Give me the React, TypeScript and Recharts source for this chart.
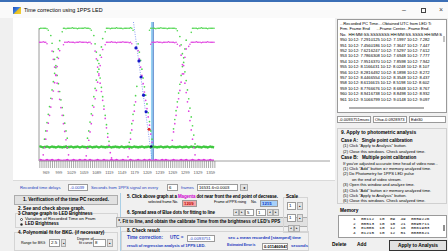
import React from "react";
import { ComposedChart, Scatter, Line, XAxis, YAxis, ReferenceLine } from "recharts";

const FONT = '"Liberation Sans", Arial, sans-serif';
const gap = (n: number) => Array.from({ length: n }, () => null as number | null);

// every 3rd frame is plotted
const FRAMES = [
  953, 956, 959, 962, 965, 968, 971, 974, 977, 980, 983, 986, 989, 992, 995, 998, 1001, 1004, 1007, 1010,
  1013, 1016, 1019, 1022, 1025, 1028, 1031, 1034, 1037, 1040, 1043, 1046, 1049, 1052, 1055, 1058, 1061, 1064, 1067, 1070,
  1073, 1076, 1079, 1082, 1085, 1088, 1091, 1094, 1097, 1100, 1103, 1106, 1109, 1112, 1115, 1118, 1121, 1124, 1127, 1130,
  1133, 1136, 1139, 1142, 1145, 1148, 1151, 1154, 1157, 1160, 1163, 1166, 1169, 1172, 1175, 1178, 1181, 1184, 1187, 1190,
  1193, 1196, 1199, 1202, 1205, 1208, 1211, 1214, 1217, 1220, 1223, 1226, 1229, 1232, 1235, 1238, 1241, 1244, 1247, 1250,
  1253, 1256, 1259, 1262, 1265, 1268, 1271, 1274, 1277, 1280, 1283, 1286, 1289, 1292, 1295, 1298, 1301, 1304, 1307, 1310,
  1313, 1316, 1319, 1322, 1325, 1328, 1331, 1334, 1337, 1340, 1343, 1346, 1349, 1352, 1355, 1358, 1361, 1364, 1367,
];

// LED brightness, odd field (green) and even field (magenta)
const GREEN_TOP = [
  255, 256, 256, 256, 256, 256, 255, 252, ...gap(10),
  249, 256, 256, 255, 256, 256, 256, 256, 257, 256, 256, 256, 255, 256, 256, 256, 256, 256, 257, 256, 256, 256, 255, 252, ...gap(10),
  249, 256, 256, 256, 255, 256, 256, 256, 256, 257, 256, 256, 256, 256, 255, 256, 256, 256, 256, 256, 257, 256, 252, ...gap(12),
  252, 256, 256, 256, 256, 255, 256, 256, 256, 257, 256, 256, 256, 256, 255, 256, 256, 256, 256, 256, 256, 255, 251, ...gap(10),
  248, 256, 256, 256, 256, 255, 256, 256, 257, 256, 256, 256, 256, 255, 256, 256, 256, 256, 256,
];
const MAGENTA_TOP = [
  229, 229, 229, 230, 229, 229, 226, ...gap(12),
  224, 229, 229, 229, 230, 229, 229, 229, 229, 228, 229, 229, 229, 230, 229, 229, 229, 229, 229, 228, 229, 229, 226, ...gap(10),
  224, 229, 229, 229, 229, 230, 229, 229, 229, 228, 229, 229, 229, 229, 230, 229, 229, 229, 229, 228, 229, 226, ...gap(14),
  225, 229, 229, 229, 229, 230, 229, 229, 229, 228, 229, 229, 229, 229, 230, 229, 229, 229, 229, 228, 229, 225, ...gap(8),
  221, 225, 229, 229, 229, 229, 230, 229, 229, 229, 228, 229, 229, 229, 229, 230, 229, 229, 229, 229, 229,
];
const GREEN_DOWN = [
  ...gap(9), 242, 227, 211, 196, 180, 165, 149, 134, 118, 103, 88, 73, 58, 44,
  ...gap(20), 242, 226, 210, 194, 177, 160, 142, 124, 106, 88, 70, 53, 38,
  ...gap(22), 226, 210, 194, 177, 160, 143, 127, 110, 93, 76, 58, 42,
  ...gap(21), 240, 224, 207, 190, 172, 155, 137, 120, 102, 85, 68, 50, 33, ...gap(15),
];
const MAGENTA_DOWN = [
  ...gap(10), 212, 196, 181, 165, 150, 134, 119, 103, 88, 72, 57, 41, 26, 12,
  ...gap(20), 212, 197, 181, 165, 150, 134, 117, 100, 82, 64, 46, 30, 16, 6,
  ...gap(20), 213, 197, 181, 165, 149, 133, 117, 101, 85, 69, 52, 36,
  ...gap(21), 222, 204, 186, 168, 150, 132, 114, 96, 78, 60, 42, 26, 12, ...gap(15),
];
const GREEN_UP = [
  ...gap(4), 42, 58, 74, 90, 105, 121, 137, 153, 169, 184, 200, 216, 232,
  ...gap(21), 44, 58, 75, 91, 107, 124, 140, 156, 172, 188, 204, 220, 236,
  ...gap(20), 36, 54, 72, 90, 108, 126, 144,
  ...gap(28), 62, 80, 97, 114, 131, 148, 165, 182, 199, 216, 233, ...gap(22),
];
const MAGENTA_UP = [
  ...gap(3), 12, 26, 42, 58, 73, 88, 104, 120, 135, 151, 166, 182, 198, 213,
  ...gap(20), 10, 25, 40, 56, 72, 88, 104, 120, 136, 152, 168, 184, 200, 215,
  ...gap(19), 8, 24, 42, 60, 78, 96, 114,
  ...gap(28), 40, 56, 72, 88, 104, 120, 136, 152, 168, 184, 200, 216, ...gap(22),
];
const GREEN_BASE = [
  27, 28, 27, 26, 27, 27, 28, 27, 26, 27, 28, 27, 27, 26, 27, 28, 27, 27, 26, 27,
  27, 28, 26, 27, 27, 28, 27, 26, 27, 27, 28, 27, 26, 27, 28, 27, 27, 26, 27, 27,
  28, 27, 26, 27, 27, 28, 27, 26, 27, 28, 27, 27, 26, 27, 27, 28, 27, 26, 27, 27,
  28, 27, 27, 26, 27, 28, 27, 26, 27, 27, 28, 27, 27, 26, 27, 28, 27, 27, 26, 27,
  27, 28, 27, 26, 27, 27, 28, 27, 26, 27, 28, 27, 27, 26, 27, 27, 28, 27, 26, 27,
  27, 28, 27, 26, 27, 28, 27, 27, 26, 27, 27, 28, 27, 26, 27, 27, 28, 27, 26, 27,
  28, 27, 27, 26, 27, 28, 27, 27, 26, 27, 28, 27, 27, 26, 27, 28, 27, 27, 26,
];
const MAGENTA_BASE = [
  1, 2, 1, 1, 0, 1, 2, 1, 1, 1, 2, 1, 0, 1, 1, 2, 1, 1, 0, 1,
  1, 1, 2, 1, 0, 1, 1, 2, 1, 1, 0, 1, 2, 1, 1, 1, 2, 1, 0, 1,
  2, 1, 1, 0, 1, 1, 2, 1, 1, 0, 1, 2, 1, 1, 1, 0, 1, 2, 1, 1,
  1, 2, 1, 0, 1, 1, 2, 1, 1, 1, 0, 1, 2, 1, 1, 0, 1, 1, 2, 1,
  1, 0, 1, 2, 1, 1, 1, 2, 1, 0, 1, 1, 2, 1, 1, 0, 1, 2, 1, 1,
  2, 1, 1, 0, 1, 1, 2, 1, 1, 1, 0, 1, 2, 1, 1, 1, 2, 1, 0, 1,
  1, 2, 1, 1, 0, 1, 2, 1, 1, 1, 2, 1, 0, 1, 1, 2, 1, 1, 1,
];

// dots chosen for the line fit, the selected frame and the 1PPS rising point
const BLUE_FRAMES = [1182, 1189, 1194, 1200, 1206];
const BLUE_VALUES = [218, 193, 162, 127, 95];
const SELECTED_FRAME = [1213];
const SELECTED_VALUE = [61];
const RISE_FRAME = [1218];
const RISE_VALUE = [28];
const FIT_LINE = [
  { x: 1176, y: 268 },
  { x: 1220, y: 2 },
];
const CURSOR_FRAME = 1221;

const X_LABELS = [969, 999, 1029, 1059, 1089, 1119, 1149, 1179, 1209, 1239, 1269, 1299, 1329, 1359];
const X_TICKS = Array.from({ length: 84 }, (_, i) => 954 + i * 5);
const Y_TICKS = [0, 100, 200];

const LIST_HEAD = [
  "...Recorded PC Time....Obtained UTC from LED Ti",
  "Frm. Frame End      ...Frame Center...Frame End.",
  "No.  HH:MM:SS.SSSSSSS HH:MM:SS.SSSS HH:MM:S",
];
const LIST_ROWS = [
  "950 10:12: 7.2910125 10:12: 7.1997 10:12: 7.282",
  "951 10:12: 7.4560186 10:12: 7.3647 10:12: 7.447",
  "952 10:12: 7.6216247 10:12: 7.5297 10:12: 7.612",
  "953 10:12: 7.7866308 10:12: 7.6948 10:12: 7.777",
  "954 10:12: 7.9516370 10:12: 7.8598 10:12: 7.942",
  "955 10:12: 8.1166431 10:12: 8.0248 10:12: 8.107",
  "956 10:12: 8.2816492 10:12: 8.1898 10:12: 8.272",
  "957 10:12: 8.4466554 10:12: 8.3548 10:12: 8.437",
  "958 10:12: 8.6116615 10:12: 8.5198 10:12: 8.602",
  "959 10:12: 8.7766676 10:12: 8.6848 10:12: 8.767",
  "960 10:12: 8.9416738 10:12: 8.8498 10:12: 8.932",
  "961 10:12: 9.1066799 10:12: 9.0148 10:12: 9.097",
];
const MEMORY_ROWS = [
  "1  00112  10  09  49  0059226",
  "2  00513  10  10  21  0095711",
  "3  01006  10  12  16  0061903",
  "4  01215  10  12  51  0088621",
];
const CASE_LINES = [
  { t: "Case A:   Single point calibration", b: true, x: 341 },
  { t: '(1) Click "Apply to Analysis" button.', x: 343 },
  { t: "(2) Close this windows. Check analyzed time.", x: 343 },
  { t: "Case B:   Multiple point calibration", b: true, x: 341 },
  { t: "If you've adjusted accurate time head of video now...", x: 343 },
  { t: '(1) Click "Add" button => memory analyzed time.', x: 343 },
  { t: "(2) Do Photometry for 1PPS LED pulse", x: 343 },
  { t: "on the end of video stream.", x: 352 },
  { t: "(3) Open this window and analyze time.", x: 343 },
  { t: '(4) Click "Add" button => memory analyzed time.', x: 343 },
  { t: '(5) Click "Apply to Analysis" button.', x: 343 },
  { t: "(6) Close this windows. Check analyzed time.", x: 343 },
];

const GREEN = "#4fd64f";
const MAGENTA = "#e043e0";

const toPoints = (vals: (number | null)[]) =>
  FRAMES.map((frame, i) => ({ frame, v: vals[i] })).filter((p) => p.v !== null && p.v !== undefined);
const pairs = (frames: number[], vals: number[]) => frames.map((frame, i) => ({ frame, v: vals[i] }));

const dot = (fill: string, r: number) => (props: any) =>
  <circle cx={props.cx} cy={props.cy} r={r} fill={fill} />;

const XTick = (props: any) => {
  const { x, y, payload } = props;
  if (!X_LABELS.includes(payload.value)) return <g />;
  return (
    <text x={x} y={y} dy={4} textAnchor="middle" fontSize={4} fill="#555" fontFamily={FONT}>
      {payload.value}
    </text>
  );
};
const YTick = (props: any) => {
  const { x, y, payload } = props;
  return (
    <text x={payload.value === 0 ? x - 1 : x - 4} y={y} dy={1.4} textAnchor="end" fontSize={3.8} fill="#555" fontFamily={FONT}>
      {payload.value}
    </text>
  );
};

const T = ({ x, y, s = 4.6, b = false, c = "#000", ls = 0, children }: any) => (
  <div
    style={{
      position: "absolute", left: x, top: y, fontSize: s, fontWeight: b ? 700 : 400, color: c,
      whiteSpace: "pre", lineHeight: 1, letterSpacing: ls,
    }}
  >
    {children}
  </div>
);
const Box = ({ x, y, w, h, bg = "#fff", bd = "#a8a8a8", children, style }: any) => (
  <div
    style={{
      position: "absolute", left: x, top: y, width: w, height: h, background: bg,
      border: `1px solid ${bd}`, boxSizing: "border-box", overflow: "hidden", ...style,
    }}
  >
    {children}
  </div>
);
const Btn = ({ x, y, w, h, children, s = 4.6, bold = true, align = "center", bd = "#adadad" }: any) => (
  <div
    style={{
      position: "absolute", left: x, top: y, width: w, height: h, background: "#e1e1e1",
      border: `1px solid ${bd}`, boxSizing: "border-box", fontSize: s, fontWeight: bold ? 700 : 400,
      lineHeight: `${h - 2}px`, textAlign: align, whiteSpace: "pre", overflow: "hidden",
    }}
  >
    {children}
  </div>
);
const Field = ({ x, y, w, h = 7, v, bg = "#fff", c = "#000", s = 4.4, b = false }: any) => (
  <Box x={x} y={y} w={w} h={h} bg={bg} bd="#9a9a9a">
    <div style={{ fontSize: s, lineHeight: `${h - 2}px`, paddingLeft: 1, color: c, fontWeight: b ? 700 : 400, whiteSpace: "pre" }}>{v}</div>
  </Box>
);

export default function App() {
  const rows = FRAMES.map((frame, i) => ({ frame, gBase: GREEN_BASE[i], mBase: MAGENTA_BASE[i] }));
  const blue = "#1f3fc0";

  return (
    <div
      style={{
        position: "fixed", left: 0, top: 0, width: 448, height: 251, overflow: "hidden",
        background: "#f0f0f0", fontFamily: FONT,
      }}
    >
      {/* title bar */}
      <div style={{ position: "absolute", left: 0, top: 0, width: 448, height: 2, background: "#3b6fb6" }} />
      <div style={{ position: "absolute", left: 0, top: 2, width: 448, height: 16, background: "#fafafa" }} />
      <div style={{ position: "absolute", left: 13, top: 7, width: 8, height: 7, background: "linear-gradient(135deg,#1d4fb8 0%,#3c7ee0 45%,#e8c020 55%,#f4d03a 100%)" }} />
      <T x={24} y={7.5} s={5.4}>Time correction using 1PPS LED</T>
      <T x={402} y={6} s={7} c="#444">–</T>
      <div style={{ position: "absolute", left: 421, top: 8, width: 5, height: 5, border: "1px solid #444", boxSizing: "border-box" }} />
      <T x={439} y={6} s={7} c="#444">×</T>

      {/* graph panel */}
      <div style={{ position: "absolute", left: 13, top: 18, width: 322, height: 162, background: "#fff", borderBottom: "1px solid #dadada" }} />
      <div style={{ position: "absolute", left: 0, top: 0 }}>
        <ComposedChart width={340} height={180} data={rows} margin={{ top: 22, right: 10, bottom: 0, left: 39 }}>
          <XAxis
            dataKey="frame"
            type="number"
            domain={[952, 1642]}
            allowDataOverflow
            ticks={X_TICKS}
            interval={0}
            tick={<XTick />}
            tickSize={7}
            tickLine={{ stroke: "#707070", strokeWidth: 0.6 }}
            axisLine={{ stroke: "#a0a0a0" }}
            height={19}
          />
          <YAxis
            type="number"
            domain={[0, 268]}
            allowDataOverflow
            ticks={Y_TICKS}
            tick={<YTick />}
            tickLine={false}
            tickSize={0}
            axisLine={false}
            width={0}
          />
          <ReferenceLine segment={[{ x: 952, y: 0 }, { x: 952, y: 256 }]} stroke="#9a9a9a" strokeWidth={1} />
          <ReferenceLine x={CURSOR_FRAME} stroke="#96d0f2" strokeWidth={3} />
          <ReferenceLine x={CURSOR_FRAME + 2} stroke="#6d8ccc" strokeWidth={1} />
          <ReferenceLine segment={FIT_LINE} stroke="#6a84f0" strokeWidth={0.8} strokeDasharray="1 1.4" />
          <Line dataKey="gBase" stroke="#3fc83f" strokeWidth={2.4} dot={false} isAnimationActive={false} />
          <Line dataKey="mBase" stroke="#e030e0" strokeWidth={2.2} dot={false} isAnimationActive={false} />
          <Scatter data={toPoints(GREEN_TOP)} dataKey="v" shape={dot(GREEN, 0.8)} isAnimationActive={false} />
          <Scatter data={toPoints(MAGENTA_TOP)} dataKey="v" shape={dot(MAGENTA, 0.8)} isAnimationActive={false} />
          <Scatter data={toPoints(GREEN_DOWN)} dataKey="v" shape={dot(GREEN, 0.85)} isAnimationActive={false} />
          <Scatter data={toPoints(MAGENTA_DOWN)} dataKey="v" shape={dot(MAGENTA, 0.85)} isAnimationActive={false} />
          <Scatter data={toPoints(GREEN_UP)} dataKey="v" shape={dot(GREEN, 0.85)} isAnimationActive={false} />
          <Scatter data={toPoints(MAGENTA_UP)} dataKey="v" shape={dot(MAGENTA, 0.85)} isAnimationActive={false} />
          <Scatter data={pairs(BLUE_FRAMES, BLUE_VALUES)} dataKey="v" shape={dot("#1818c8", 1.6)} isAnimationActive={false} />
          <Scatter data={pairs(SELECTED_FRAME, SELECTED_VALUE)} dataKey="v" shape={dot("#e02828", 1.5)} isAnimationActive={false} />
          <Scatter data={pairs(RISE_FRAME, RISE_VALUE)} dataKey="v" shape={dot("#10106a", 1.3)} isAnimationActive={false} />
        </ComposedChart>
      </div>

      {/* time list */}
      <Box x={337} y={19} w={110} h={94} bd="#9a9a9a">
        {[...LIST_HEAD, ...LIST_ROWS].map((t, i) => (
          <div key={i} style={{ position: "absolute", left: 2, top: 2 + i * 5.4, fontSize: 4.2, letterSpacing: -0.05, lineHeight: 1, whiteSpace: "pre" }}>{t}</div>
        ))}
        <div style={{ position: "absolute", left: 105, top: 16, width: 2, height: 6, background: "#c4c4c4" }} />
        <div style={{ position: "absolute", left: 11, top: 87, width: 75, height: 1.5, background: "#b0b0b0" }} />
      </Box>
      <Field x={337} y={116} w={34} v="-0.0093751msec" s={4.1} />
      <Field x={373} y={116} w={34} v="Ofs=-0.0928973" s={4.1} />
      <Field x={409} y={116} w={37} v="Edit30" s={4.1} />

      {/* 9. apply */}
      <div style={{ position: "absolute", left: 337, top: 128, width: 110, height: 76, border: "1px solid #d0d0d0", boxSizing: "border-box" }} />
      <T x={341} y={131} s={4.9} b>9. Apply to photometric analysis</T>
      {CASE_LINES.map((l, i) => (
        <T key={i} x={l.x} y={139 + i * 5.4 + (i >= 3 ? 1 : 0)} s={l.b ? 4.6 : 4.1} b={l.b}>{l.t}</T>
      ))}
      <T x={340} y={209} s={4.8} b>Memory</T>
      <Box x={338} y={215} w={109} h={23} bd="#9a9a9a">
        {MEMORY_ROWS.map((t, i) => (
          <div key={i} style={{ position: "absolute", left: 14, top: 1 + i * 4.6, fontSize: 4.4, lineHeight: 1, whiteSpace: "pre", fontFamily: '"Liberation Mono", monospace' }}>{t}</div>
        ))}
        <div style={{ position: "absolute", left: 104, top: 9, width: 1.5, height: 6, background: "#909090" }} />
      </Box>
      <T x={332} y={243} s={4.8} b>Delete</T>
      <T x={357} y={243} s={4.8} b>Add</T>
      <Btn x={389} y={240} w={58} h={11} s={4.8} bd="#333">Apply to Analysis</Btn>

      {/* left controls */}
      <T x={20} y={185.5} s={4.2} c={blue}>Recorded time delays</T>
      <Field x={68} y={184} w={20} v="-0.0039" c={blue} s={4.2} />
      <T x={91} y={185.5} s={4.2} c={blue}>Seconds from 1PPS signal on every</T>
      <Field x={167} y={184} w={11} v="6" s={4.2} />
      <T x={181} y={185.5} s={4.2} c={blue}>frames</T>
      <Field x={197} y={184} w={41} v="16531.6<0.0003" s={4.2} />
      <Btn x={240} y={184} w={8} h={7} s={4} bold={false}>◂</Btn>

      <Btn x={14} y={195} w={104} h={10} s={4.7}>1. Verification of the time PC recorded.</Btn>
      <T x={18} y={207} s={4.6} b>2. See and check above graph.</T>
      <div style={{ position: "absolute", left: 15, top: 213, width: 103, height: 15, border: "1px solid #d4d4d4", boxSizing: "border-box" }} />
      <T x={18} y={212} s={4.5} b>3 Change graph to LED Brightness</T>
      <div style={{ position: "absolute", left: 19.5, top: 217.5, width: 3.5, height: 3.5, borderRadius: 2, border: "0.6px solid #444", background: "#fff", boxSizing: "border-box" }} />
      <T x={25} y={217} s={4.4}>Variation of Recorded Time on Fram</T>
      <div style={{ position: "absolute", left: 19.5, top: 222.5, width: 3.5, height: 3.5, borderRadius: 2, border: "0.6px solid #444", background: "radial-gradient(#222 35%, #fff 45%)", boxSizing: "border-box" }} />
      <T x={25} y={222} s={4.5} b>LED Brightness</T>
      <div style={{ position: "absolute", left: 14, top: 232, width: 104, height: 19, border: "1px solid #d4d4d4", boxSizing: "border-box" }} />
      <T x={18} y={230.5} s={4.6} b>4. Polynomial fit for BKG. (if necessary)</T>
      <T x={21} y={241.5} s={3.6}>Range for BKG</T>
      <Field x={49} y={239} w={11} h={8} v="2.5" s={4.4} />
      <Btn x={61} y={239} w={5} h={8} s={3} bold={false}>{"▴"}</Btn>
      <T x={77} y={237.5} s={3.8}>Degree of</T>
      <T x={79} y={242} s={3.8}>fit curve</T>
      <Field x={93} y={239} w={13} h={8} v="8" s={4.4} />
      <Btn x={107} y={239} w={6} h={8} s={3} bold={false}>{"▴"}</Btn>

      {/* middle controls */}
      <div style={{ position: "absolute", left: 120, top: 193, width: 1, height: 58, background: "#a9cfe6" }} />
      <T x={127} y={195} s={4.5} b ls={-0.12}>5. Click above graph at a <span style={{ color: "#d000d0" }}>Magenta</span> dot near front the end point of decrease.</T>
      <T x={148} y={201} s={3.8} ls={-0.1}>selected frame No.</T>
      <Field x={182} y={199.5} w={15} h={7} v="1209" bg="#f3a5a5" c="#c00000" s={4.3} b />
      <T x={214} y={201} s={3.8} ls={-0.1}>Frame of PPS rising</T>
      <T x={251} y={201} s={3.8}>No.</T>
      <Field x={260} y={199.5} w={18} h={7} v="1215" bg="#a6d0fa" c="#1030c0" s={4.3} b />
      <T x={127} y={211} s={4.5} b ls={-0.12}>6. Spread area of Blue dots for fitting to line</T>
      <Btn x={233} y={209} w={6} h={7} s={3.4} bold={false}>◂</Btn>
      <Btn x={239} y={209} w={6} h={7} s={3.4} bold={false}>▸</Btn>
      <Field x={245} y={209} w={9} h={7} v="5" s={4.2} />
      <Field x={256} y={209} w={10} h={7} v="1" s={4.2} />
      <Btn x={267} y={209} w={6} h={7} s={3.4} bold={false}>◂</Btn>
      <Btn x={273} y={209} w={6} h={7} s={3.4} bold={false}>▸</Btn>
      <Btn x={116} y={217} w={192} h={10} s={4.5} align="left">{" *. Fit to line, and obtain the calibrate Time from the brightness of LED's PPS"}</Btn>
      <div style={{ position: "absolute", left: 121, top: 231, width: 188, height: 20, border: "1px solid #d4d4d4", boxSizing: "border-box" }} />
      <T x={127} y={229} s={4.6} b>8. Check result</T>
      <T x={127} y={236} s={4.6} b c={blue}>Time correction:</T>
      <T x={170} y={236} s={4.6} b c={blue}>UTC =</T>
      <Field x={187} y={234.5} w={28} h={7} v="-0.0093751" c={blue} s={4.3} />
      <T x={228} y={236} s={4.4} b c={blue} ls={-0.1}>sec + mean recorded [stamped] time</T>
      <T x={127} y={244} s={4.1} b c={blue} ls={-0.1}>result of regression analysis of 1PPS LED.</T>
      <T x={227} y={244} s={3.6} b c={blue} ls={-0.15}>Estimated Error is</T>
      <Field x={262} y={242.5} w={26} h={7} v="0.011460947" s={4.1} b />
      <T x={291} y={244} s={4.2} b c={blue}>seconds</T>

      {/* scale */}
      <div style={{ position: "absolute", left: 283, top: 197, width: 25, height: 36, border: "1px solid #d4d4d4", boxSizing: "border-box" }} />
      <T x={286} y={195} s={4.6} b>Scale</T>
      <Field x={287} y={202} w={9} h={8} v="1" s={4.4} />
      <Btn x={297} y={202} w={6} h={8} s={3} bold={false}>{"▴"}</Btn>
      <Field x={287} y={214} w={9} h={8} v="1" s={4.4} />
      <Btn x={297} y={214} w={6} h={8} s={3} bold={false}>{"▴"}</Btn>
      <Btn x={288} y={225} w={6} h={7} s={3.4} bold={false}>◂</Btn>
      <Btn x={294} y={225} w={6} h={7} s={3.4} bold={false}>▸</Btn>
    </div>
  );
}
